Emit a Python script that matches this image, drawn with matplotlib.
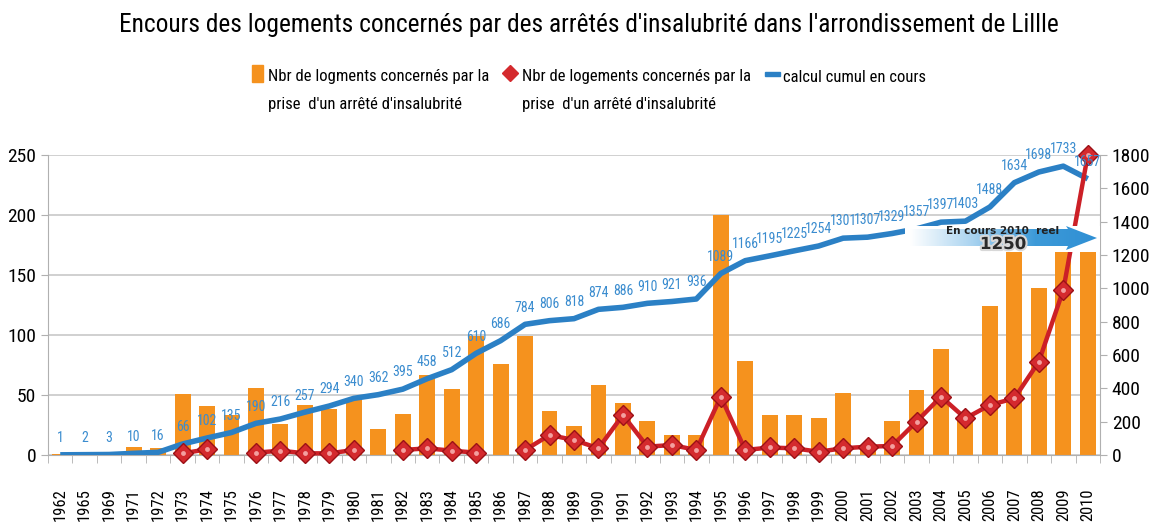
import matplotlib
matplotlib.use("Agg")
import matplotlib.pyplot as plt
import numpy as np
from matplotlib.patches import Rectangle, Polygon
from matplotlib.colors import LinearSegmentedColormap
from matplotlib import font_manager
import matplotlib.patheffects as pe

# annees (categories de l'axe x)
annees = ["1962", "1965", "1969", "1971", "1972", "1973", "1974", "1975", "1976", "1977",
          "1978", "1979", "1980", "1981", "1982", "1983", "1984", "1985", "1986", "1987",
          "1988", "1989", "1990", "1991", "1992", "1993", "1994", "1995", "1996", "1997",
          "1998", "1999", "2000", "2001", "2002", "2003", "2004", "2005", "2006", "2007",
          "2008", "2009", "2010"]

# barres : nbr de logements par arrete (axe gauche)
nbr_logements = [1, 1, 1, 7, 6, 51, 41, 33, 56, 26,
                 42, 38, 47, 22, 34, 67, 55, 99, 76, 99,
                 37, 24, 58, 43, 28, 17, 17, 200, 78, 33,
                 33, 31, 52, 6, 28, 54, 88, 30, 124, 180,
                 139, 170, 170]

# courbe rouge (axe droit), nan = pas de point
nbr_rouge = [np.nan, np.nan, np.nan, np.nan, np.nan, 10, 34, np.nan, 14, 26,
             10, 10, 30, np.nan, 30, 40, 26, 14, np.nan, 30,
             120, 90, 40, 240, 50, 60, 30, 350, 30, 45,
             40, 20, 40, 50, 54, 200, 350, 220, 300, 340,
             560, 990, 1800]

# cumul en cours (axe droit)
cumul = [1, 2, 3, 10, 16, 66, 102, 135, 190, 216,
         257, 294, 340, 362, 395, 458, 512, 610, 686, 784,
         806, 818, 874, 886, 910, 921, 936, 1089, 1166, 1195,
         1225, 1254, 1301, 1307, 1329, 1357, 1397, 1403, 1488, 1634,
         1698, 1733, 1657]

titre = "Encours des logements concernés par des arrêtés d'insalubrité dans l'arrondissement de Lillle"
leg_barres = ["Nbr de logments concernés par la", "prise  d'un arrêté d'insalubrité"]
leg_rouge = ["Nbr de logements concernés par la", "prise  d'un arrêté d'insalubrité"]
leg_cumul = "calcul cumul en cours"

ORANGE = "#f5921e"
BLEU = "#2b80c5"
BLEU_TXT = "#3a8ccf"
ROUGE = "#cc2027"

# police etroite si dispo, sinon Liberation Sans un peu plus petite
noms = {f.name for f in font_manager.fontManager.ttflist}
POLICE, K = "Liberation Sans", 0.86
for cand in ["Liberation Sans Narrow", "Arial Narrow", "Roboto Condensed",
             "Open Sans Condensed", "DejaVu Sans Condensed"]:
    if cand in noms:
        POLICE, K = cand, 1.0
        break
STRETCH = "normal"
if K < 1 and any(f.name == "DejaVu Sans" and f.stretch == "condensed"
                 for f in font_manager.fontManager.ttflist):
    POLICE, STRETCH, K = "DejaVu Sans", "condensed", 0.9


def fs(t):
    return t * K


W, H = 1152, 528


def px(x, y):
    return x / W, 1 - y / H


fig = plt.figure(figsize=(W / 100, H / 100), dpi=100)
fig.patch.set_facecolor("white")
police = dict(fontfamily=POLICE, fontstretch=STRETCH)

x0, y0 = px(48, 455)
ax = fig.add_axes([x0, y0, (1100 - 48) / W, 300 / H])
x = np.arange(len(annees))

ax.bar(x, nbr_logements, width=0.65, color=ORANGE, zorder=2)
ax.set_ylim(0, 250)
ax.set_xlim(-0.5, len(annees) - 0.5)
ax.set_yticks([0, 50, 100, 150, 200, 250])
ax.yaxis.grid(True, color="#c8c8c8", linewidth=1.2, zorder=0)
ax.set_axisbelow(True)
ax.set_xticks(x)
ax.set_xticklabels(annees, rotation=90, fontsize=fs(12), **police)
ax.set_xticks(np.arange(-0.5, len(annees), 1), minor=True)
ax.tick_params(axis="x", which="major", length=0, pad=24)
ax.tick_params(axis="x", which="minor", length=6, color="#b0b0b0")
ax.tick_params(axis="y", length=5, color="#b0b0b0", labelsize=fs(14))
for lab in ax.get_yticklabels():
    lab.set_fontfamily(POLICE)
    lab.set_fontstretch(STRETCH)
for s in ["top", "right"]:
    ax.spines[s].set_visible(False)
ax.spines["left"].set_color("#b0b0b0")
ax.spines["bottom"].set_color("#b0b0b0")

ax2 = ax.twinx()
ax2.set_ylim(0, 1800)
ax2.set_yticks(range(0, 1801, 200))
ax2.tick_params(axis="y", length=5, color="#b0b0b0", labelsize=fs(14))
for lab in ax2.get_yticklabels():
    lab.set_fontfamily(POLICE)
    lab.set_fontstretch(STRETCH)
for s in ["top", "left", "bottom"]:
    ax2.spines[s].set_visible(False)
ax2.spines["right"].set_color("#b0b0b0")

ax2.plot(x, cumul, color=BLEU, linewidth=4, solid_capstyle="butt", zorder=3)
ax2.plot(x, nbr_rouge, color=ROUGE, linewidth=3.2, marker="D", markersize=10.5,
         markerfacecolor="#d42a2e", markeredgecolor="#9c1016", markeredgewidth=1,
         zorder=4, clip_on=False)
# petit reflet sur les losanges
ax2.plot(x, nbr_rouge, linestyle="none", marker="o", markersize=3.5,
         markerfacecolor="#f3a0a0", markeredgecolor="none", zorder=5, clip_on=False)

for xi, v in zip(x, cumul):
    ax2.annotate(str(v), (xi, v), xytext=(0, 12), textcoords="offset points",
                 ha="center", va="center", fontsize=fs(10),
                 color=BLEU_TXT, zorder=6, **police)

# titre
fig.text(*px(589, 25), titre, ha="center", va="center", fontsize=fs(18.3), **police)

# legende (a la main, deux lignes par entree)
fig.patches.append(Rectangle(px(252, 82), 11 / W, 17 / H, transform=fig.transFigure,
                             color=ORANGE, figure=fig))
for i, ligne in enumerate(leg_barres):
    fig.text(*px(268, 77 + 27 * i), ligne, ha="left", va="center",
             fontsize=fs(12), **police)
fig.lines.append(plt.Line2D([510 / W], [1 - 73 / H], transform=fig.transFigure,
                            marker="D", markersize=8, color="#d42a2e", figure=fig))
for i, ligne in enumerate(leg_rouge):
    fig.text(*px(522, 77 + 27 * i), ligne, ha="left", va="center",
             fontsize=fs(12), **police)
fig.patches.append(Rectangle(px(765, 76), 15 / W, 4 / H, transform=fig.transFigure,
                             color=BLEU, figure=fig))
fig.text(*px(783, 77), leg_cumul, ha="left", va="center", fontsize=fs(12), **police)

# fleche "En cours 2010 reel"
bx0, by0 = px(905, 252)
axa = fig.add_axes([bx0, by0, 195 / W, 26 / H], zorder=10)
axa.set_xlim(905, 1100)
axa.set_ylim(252, 226)
axa.axis("off")
axa.add_patch(Rectangle((905, 226), 195, 26, color="white", zorder=0))
fleche = Polygon([(910, 229), (1068, 229), (1066, 226), (1097, 238), (1066, 250),
                  (1068, 246), (910, 246)], closed=True, facecolor="none",
                 edgecolor="none")
axa.add_patch(fleche)
grad = np.linspace(0, 1, 256).reshape(1, -1)
cm = LinearSegmentedColormap.from_list("fl", ["#ffffff", "#a9d3f0", "#3d9ad8", "#2f8fd4"])
im = axa.imshow(grad, cmap=cm, extent=(910, 1097, 252, 226), aspect="auto", zorder=1)
im.set_clip_path(fleche)
axa.text(1003, 231, "En cours 2010  reel", ha="center", va="center",
         fontsize=7.5, fontweight="bold", color="#222222", zorder=2)
axa.text(1003, 244, "1250", ha="center", va="center", fontsize=12, fontweight="bold",
         color="#2a2a2a", zorder=2,
         path_effects=[pe.withStroke(linewidth=3, foreground="#d8d8d8")])

fig.savefig("out.png", dpi=100)
